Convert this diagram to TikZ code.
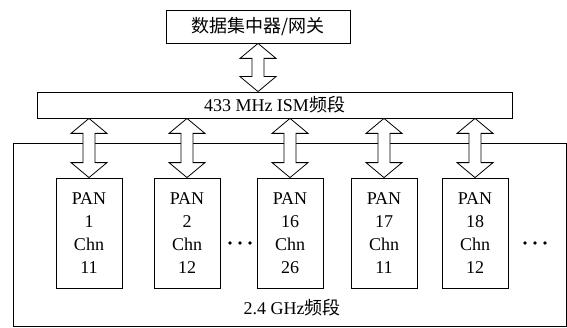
\documentclass[tikz,border=0pt]{standalone}
\usepackage{fontspec}
\setmainfont{Liberation Serif}
\newfontfamily\cjk{Noto Sans CJK SC}
\usepackage{tikz}
\usetikzlibrary{calc}
\tikzstyle{gateway} = [rectangle, draw, line width=0.8pt, minimum width=184pt, minimum height=33pt, inner sep=0pt, font=\cjk\fontsize{18}{20}\selectfont]
\tikzstyle{band} = [rectangle, draw, line width=0.8pt, minimum width=475pt, minimum height=26pt, inner sep=0pt, font=\fontsize{18}{20}\selectfont]
\tikzstyle{outer} = [rectangle, draw, line width=0.9pt, minimum width=553pt, minimum height=183pt, inner sep=0pt]
\tikzstyle{pan} = [rectangle, draw, line width=0.8pt, minimum width=66pt, minimum height=110pt, inner sep=0pt, align=center, font=\fontsize{18}{23}\selectfont]
\tikzstyle{bigarrow} = [draw, fill=white, line width=0.8pt, line join=miter]
\newcommand{\dualarrow}[2]{%
  \draw[bigarrow] let \p1=(#1), \p2=(#2) in
    (\x1,\y1) -- (\x1-18pt,\y1-15pt) -- (\x1-6pt,\y1-15pt) -- (\x1-6pt,\y2+15pt)
    -- (\x1-18pt,\y2+15pt) -- (\x1,\y2) -- (\x1+18pt,\y2+15pt) -- (\x1+6pt,\y2+15pt)
    -- (\x1+6pt,\y1-15pt) -- (\x1+18pt,\y1-15pt) -- cycle;}

\begin{document}
\begin{tikzpicture}[x=1pt, y=1pt]
\useasboundingbox (0,0) rectangle (567,327);

% gateway and 433 MHz band
\node[gateway] (gw) at (258,300.5) {数据集中器/网关};
\node[band] (ism) at (274.5,222) {433 MHz ISM{\cjk 频段}};

% 2.4 GHz area
\node[outer] (ghz) at (289.5,92.5) {};
\node[font=\fontsize{18}{20}\selectfont] (ghzlabel) at (292,19) {2.4 GHz{\cjk 频段}};

% PAN boxes
\node[pan] (pan1) at (89,94) {PAN\\1\\Chn\\11};
\node[pan] (pan2) at (187,94) {PAN\\2\\Chn\\12};
\node[pan] (pan3) at (290,94) {PAN\\16\\Chn\\26};
\node[pan] (pan4) at (384,94) {PAN\\17\\Chn\\11};
\node[pan] (pan5) at (475,94) {PAN\\18\\Chn\\12};

% dots
\fill (230,84) circle (1.8) (240,84) circle (1.8) (250,84) circle (1.8);
\fill (525,84) circle (1.8) (535,84) circle (1.8) (545,84) circle (1.8);

% double arrows
\dualarrow{gw.south}{gw.south |- ism.north}
\dualarrow{pan1.north |- ism.south}{pan1.north}
\dualarrow{pan2.north |- ism.south}{pan2.north}
\dualarrow{pan3.north |- ism.south}{pan3.north}
\dualarrow{pan4.north |- ism.south}{pan4.north}
\dualarrow{pan5.north |- ism.south}{pan5.north}

\end{tikzpicture}
\end{document}
